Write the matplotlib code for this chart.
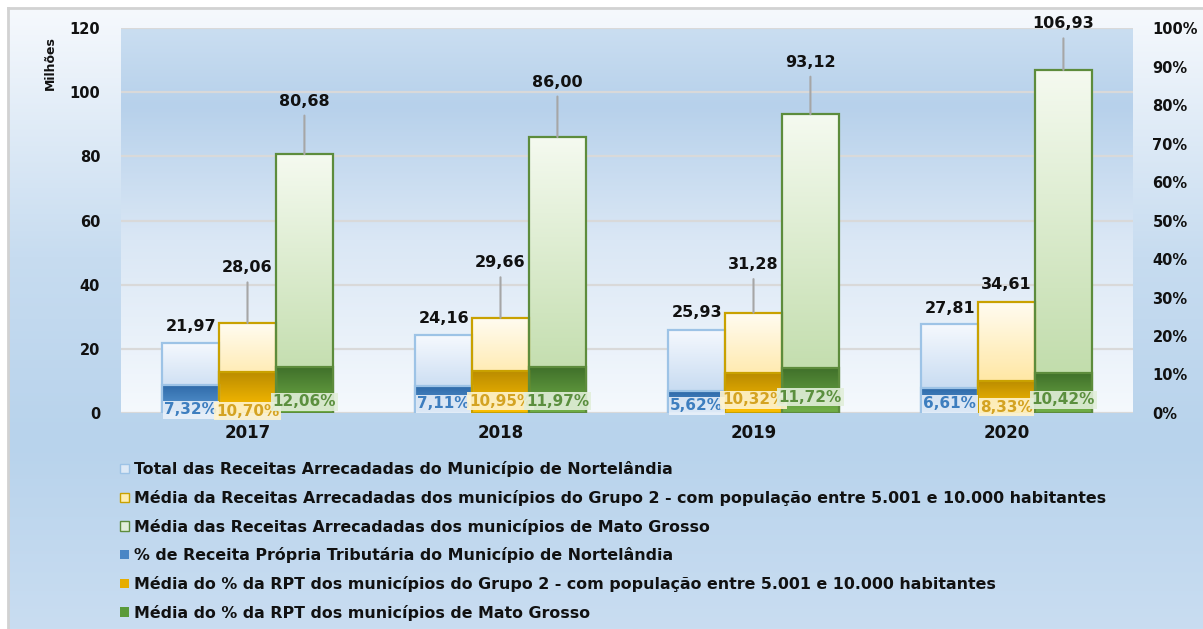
#!/usr/bin/env python3
"""Receitas arrecadadas - Nortelândia x Grupo 2 x Mato Grosso."""

import matplotlib

matplotlib.use("Agg")
import matplotlib.pyplot as plt
import numpy as np
from matplotlib.colors import LinearSegmentedColormap
from matplotlib.patches import Patch

W, H, DPI = 1203, 629, 100

years = ["2017", "2018", "2019", "2020"]
total_municipio = [21.97, 24.16, 25.93, 27.81]
media_grupo2 = [28.06, 29.66, 31.28, 34.61]
media_mt = [80.68, 86.00, 93.12, 106.93]
rpt_municipio = [7.32, 7.11, 5.62, 6.61]
rpt_grupo2 = [10.70, 10.95, 10.32, 8.33]
rpt_mt = [12.06, 11.97, 11.72, 10.42]

legend_labels = [
    "Total das Receitas Arrecadadas do Município de Nortelândia",
    "Média da Receitas Arrecadadas dos municípios do Grupo 2 - com população entre 5.001 e 10.000 habitantes",
    "Média das Receitas Arrecadadas dos municípios de Mato Grosso",
    "% de Receita Própria Tributária do Município de Nortelândia",
    "Média do % da RPT dos municípios do Grupo 2 - com população entre 5.001 e 10.000 habitantes",
    "Média do % da RPT dos municípios de Mato Grosso",
]

# label offsets (px above bar top / above zero), tuned to the reference layout
val_off = [[16, 17, 17, 15], [55, 55, 48, 17], [53, 55, 52, 46]]
pct_off = [[3, 9, 7, 9], [2, 12, 13, 6], [11, 12, 16, 13]]

# (value top, value bottom, edge, pct top, pct bottom, pct text, pct box)
styles = [
    ("#f6f9fe", "#b7d1ed", "#9dc3e6", "#2e69a8", "#5b9bd5", "#3d7ebf", "#eaf1fa"),
    ("#fffcf2", "#ffdf85", "#c9a100", "#b98b00", "#ffc000", "#d4a322", "#fff4cf"),
    ("#f5faf0", "#bbd9a3", "#5d8c3c", "#3f6f2a", "#72b048", "#5b8f3e", "#e2efda"),
]

plt.rcParams["font.family"] = ["DejaVu Sans"]
plt.rcParams["font.weight"] = "bold"

fig = plt.figure(figsize=(W / DPI, H / DPI), dpi=DPI, facecolor="white")


def grad_cmap(top, bottom):
    return LinearSegmentedColormap.from_list("g", [bottom, top])


GRAD = np.linspace(0, 1, 256).reshape(-1, 1)

# Figure background with frame on top/left
bg = fig.add_axes([8 / W, 0, 1 - 8 / W, 1 - 8 / H], zorder=-10)
bg_cmap = LinearSegmentedColormap.from_list(
    "bg", [(0, "#c9ddf1"), (0.3, "#b8d3ec"), (0.6, "#c7dcf0"), (1, "#f6f9fd")]
)
bg.imshow(GRAD, extent=(0, 1, 0, 1), origin="lower", aspect="auto", cmap=bg_cmap)
bg.set_xlim(0, 1)
bg.set_ylim(0, 1)
bg.set_xticks([])
bg.set_yticks([])
for side in ["right", "bottom"]:
    bg.spines[side].set_visible(False)
for side in ["top", "left"]:
    bg.spines[side].set_color("#d2d2d2")
    bg.spines[side].set_linewidth(2)

ax = fig.add_axes([121 / W, 1 - 413 / H, (1133 - 121) / W, (413 - 28) / H])
ax.patch.set_alpha(0)
plot_cmap = LinearSegmentedColormap.from_list(
    "pa", [(0, "#f5f9fd"), (0.45, "#dae7f5"), (0.8, "#b7d1eb"), (1, "#cadef1")]
)
ax.imshow(GRAD, extent=(0, 1, 0, 1), origin="lower", aspect="auto",
          cmap=plot_cmap, transform=ax.transAxes, zorder=0)

x = np.arange(len(years))
bw = 0.225
offsets = [-bw, 0, bw]
values = [total_municipio, media_grupo2, media_mt]
pcts = [rpt_municipio, rpt_grupo2, rpt_mt]

ax.set_xlim(-0.5, len(years) - 0.5)
ax.set_ylim(0, 120)
ax.set_yticks(np.arange(0, 121, 20))
ax.grid(axis="y", color="#d9d9d9", linewidth=1.6, zorder=1)
ax.set_axisbelow(True)

ax2 = ax.twinx()
ax2.set_ylim(0, 100)
ax2.set_yticks(np.arange(0, 101, 10))
ax2.set_yticklabels([f"{v}%" for v in range(0, 101, 10)])


def gradient_bars(axis, xs, heights, top, bottom, edge, z):
    bars = axis.bar(xs, heights, bw, facecolor="none", edgecolor=edge,
                    linewidth=1.6, zorder=z + 1)
    for b in bars:
        x0, w, h = b.get_x(), b.get_width(), b.get_height()
        im = axis.imshow(GRAD, extent=(x0, x0 + w, 0, h), origin="lower",
                         aspect="auto", cmap=grad_cmap(top, bottom), zorder=z)
        im.set_clip_path(b)
    return bars


for i in range(3):
    vt, vb, ec, pt, pb, ptxt, pbox = styles[i]
    bars = gradient_bars(ax, x + offsets[i], values[i], vt, vb, ec, 2)
    for j, b in enumerate(bars):
        off = val_off[i][j] * 0.72
        arrow = None if off < 20 else dict(arrowstyle="-", color="#a6a6a6",
                                           linewidth=1.5, shrinkA=3, shrinkB=0)
        ax.annotate(f"{values[i][j]:.2f}".replace(".", ","),
                    (b.get_x() + b.get_width() / 2, b.get_height()),
                    xytext=(0, off), textcoords="offset points",
                    ha="center", va="center", fontsize=11.5, fontweight="bold",
                    color="#111111", arrowprops=arrow, zorder=6)

for i in range(3):
    vt, vb, ec, pt, pb, ptxt, pbox = styles[i]
    bars = gradient_bars(ax2, x + offsets[i], pcts[i], pt, pb, ec, 3)
    for j, b in enumerate(bars):
        ax2.annotate(f"{pcts[i][j]:.2f}%".replace(".", ","),
                     (b.get_x() + b.get_width() / 2, 0),
                     xytext=(0, pct_off[i][j] * 0.72), textcoords="offset points",
                     ha="center", va="center", fontsize=11, fontweight="bold",
                     color=ptxt, zorder=8,
                     bbox=dict(boxstyle="square,pad=0.1", facecolor=pbox,
                               edgecolor="none", alpha=0.9))

ax.set_xticks(x)
ax.set_xticklabels(years, fontsize=12, fontweight="bold")
for a in (ax, ax2):
    for s in a.spines.values():
        s.set_visible(False)
    a.tick_params(length=0, labelsize=10.5, colors="#111111")
ax.tick_params(axis="y", pad=15)
ax.tick_params(axis="x", pad=8, labelsize=12)
ax2.tick_params(axis="y", pad=14)

fig.text(50 / W, 1 - 63 / H, "Milhões", rotation=90, ha="center", va="center",
         fontsize=9, fontweight="bold", color="#111111")

handles = [
    Patch(facecolor="#dde9f6", edgecolor="#9dc3e6"),
    Patch(facecolor="#ffeeb0", edgecolor="#c9a100"),
    Patch(facecolor="#e2efda", edgecolor="#5d8c3c"),
    Patch(facecolor="#4a86c5", edgecolor="none"),
    Patch(facecolor="#e6ad00", edgecolor="none"),
    Patch(facecolor="#5a9a3a", edgecolor="none"),
]
fig.legend(handles, legend_labels, loc="upper left",
           bbox_to_anchor=(106 / W, 1 - 447 / H), frameon=False,
           prop=dict(size=11.4, weight="bold"), handlelength=0.55,
           handleheight=0.55, handletextpad=0.35, labelspacing=0.8,
           labelcolor="#111111")

fig.savefig("out.png", dpi=DPI)
